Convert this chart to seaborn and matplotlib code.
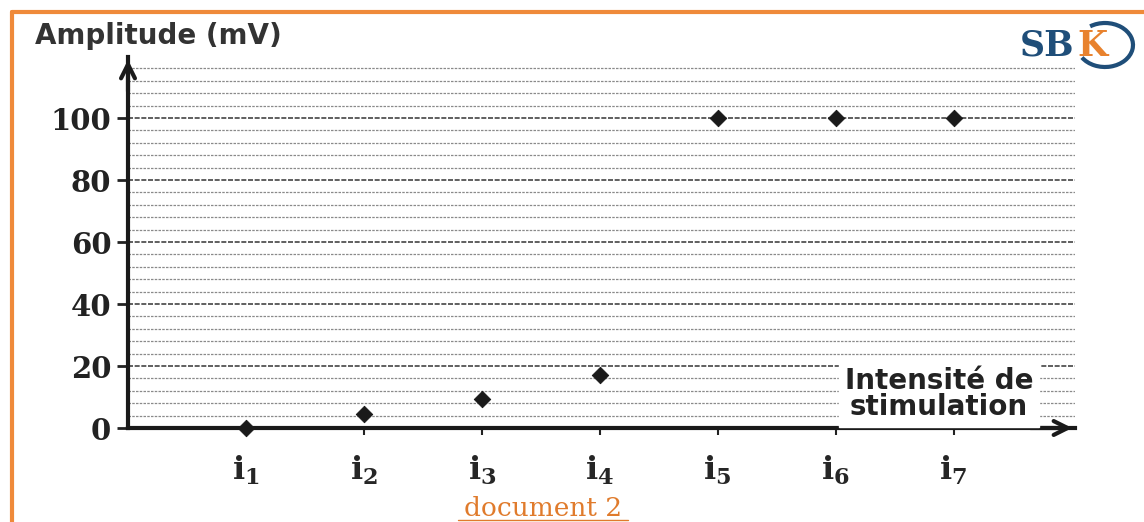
import numpy as np
import pandas as pd
import matplotlib
matplotlib.use("Agg")
import matplotlib.pyplot as plt
import seaborn as sns
from matplotlib.lines import Line2D
from matplotlib.patches import Arc

# data
stimulus = ["i1", "i2", "i3", "i4", "i5", "i6", "i7"]
stim_pos = [1, 2, 3, 4, 5, 6, 7]
amplitude = [0, 4.5, 9.5, 17, 100, 100, 100]
tick_labels = [r"$\mathbf{i_{%d}}$" % k for k in stim_pos]
y_ticks = [0, 20, 40, 60, 80, 100]

df = pd.DataFrame({"stim": stimulus, "pos": stim_pos, "amp": amplitude})

sns.set_theme(style="white")
plt.rcParams["mathtext.fontset"] = "dejavuserif"

fig = plt.figure(figsize=(11.44, 5.22), dpi=100)
ax = fig.add_axes([128 / 1144, 94 / 522, 947 / 1144, 371 / 522])

# dotted grid, every 4 mV, darker on the labelled values
ax.set_yticks(y_ticks)
ax.set_yticks(np.arange(0, 121, 4), minor=True)
ax.grid(which="minor", axis="y", color="#8a8a8a", linestyle=(0, (2, 1)), linewidth=0.9)
ax.grid(which="major", axis="y", color="#444444", linestyle=(0, (3, 1)), linewidth=1.2)
ax.grid(axis="x", visible=False)

sns.scatterplot(data=df, x="pos", y="amp", marker="D", s=70, color="#1a1a1a",
                edgecolor="#1a1a1a", ax=ax, zorder=5, clip_on=False)

ax.set_xlim(0, 8.03)
ax.set_ylim(0, 119.7)
ax.set_xticks(stim_pos)
ax.set_xticklabels(tick_labels, fontsize=23)
ax.set_yticklabels([str(v) for v in y_ticks], fontsize=21, fontweight="bold",
                   family="DejaVu Serif", color="#222222")
ax.tick_params(axis="y", which="major", left=True, length=8, width=2, pad=4, color="#222222")
ax.tick_params(axis="y", which="minor", left=False)
ax.tick_params(axis="x", bottom=True, length=5, width=1.5, pad=14, color="#222222")
ax.set_xlabel("")
ax.set_ylabel("")

for s in ["top", "right"]:
    ax.spines[s].set_visible(False)
for s in ["left", "bottom"]:
    ax.spines[s].set_linewidth(3)
    ax.spines[s].set_color("#1a1a1a")

# arrow heads
ax.annotate("", xy=(0, 1.0), xytext=(0, 0.9), xycoords="axes fraction",
            arrowprops=dict(arrowstyle="->", lw=3, color="#1a1a1a", mutation_scale=25))
ax.annotate("", xy=(1.0, 0), xytext=(0.95, 0), xycoords="axes fraction",
            arrowprops=dict(arrowstyle="->", lw=3, color="#1a1a1a", mutation_scale=25))

fig.text(35 / 1144, 1 - 36 / 522, "Amplitude (mV)", fontsize=20, fontweight="heavy",
         color="#333333", va="center", ha="left")
fig.text(939 / 1144, 1 - 394 / 522, "Intensité de\nstimulation", fontsize=20,
         fontweight="bold", color="#222222", va="center", ha="center",
         linespacing=0.92, backgroundcolor="white")

# logo
fig.text(1020 / 1144, 1 - 46 / 522, "SB", fontsize=25, fontweight="bold",
         family="DejaVu Serif", color="#1f4e79", va="center", ha="left")
fig.text(1077 / 1144, 1 - 46 / 522, "K", fontsize=25, fontweight="bold",
         family="DejaVu Serif", color="#e8822e", va="center", ha="left")
fig.add_artist(Arc((1105 / 1144, 1 - 45 / 522), 56 / 1144, 44 / 522, theta1=-130, theta2=110,
                   color="#1f4e79", lw=3, transform=fig.transFigure))

# caption
fig.text(543 / 1144, 1 - 509 / 522, "document 2", fontsize=19, family="DejaVu Serif",
         color="#e07b2c", va="center", ha="center")
fig.add_artist(Line2D([458 / 1144, 628 / 1144], [1 - 520 / 522] * 2,
                      color="#e07b2c", lw=1, transform=fig.transFigure))

# orange frame of the document
fig.add_artist(Line2D([12 / 1144, 1], [1 - 12 / 522] * 2, color="#ef8a3a", lw=3,
                      transform=fig.transFigure))
fig.add_artist(Line2D([12 / 1144] * 2, [0, 1 - 12 / 522], color="#ef8a3a", lw=3,
                      transform=fig.transFigure))

fig.savefig("out.png", dpi=100)
